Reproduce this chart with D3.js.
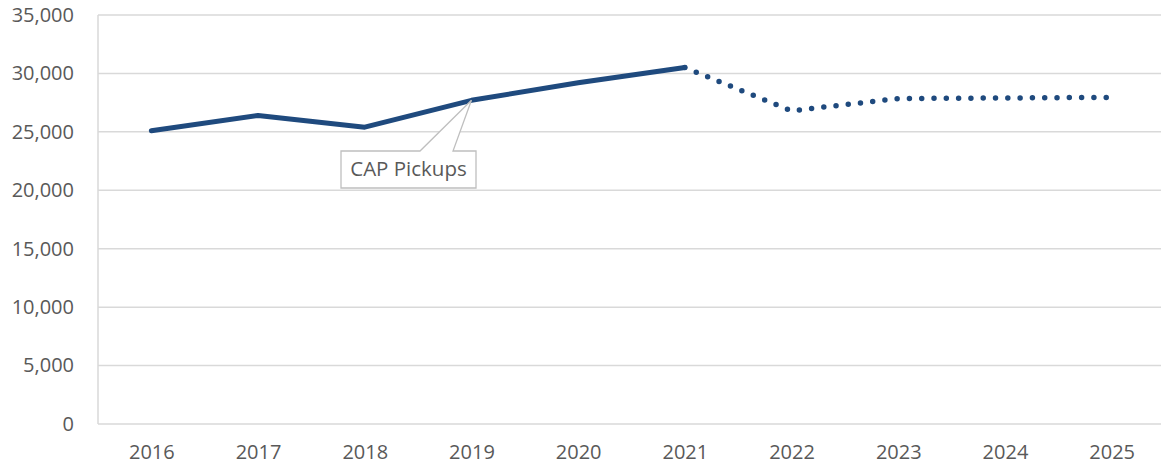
<!DOCTYPE html>
<html><head><meta charset="utf-8">
<script src="https://cdn.jsdelivr.net/npm/d3@7"></script>
<style>
body{margin:0;background:#fff;}
svg{display:block;font-family:"Open Sans","Liberation Sans",sans-serif;}
</style></head>
<body>
<svg id="chart" width="1161" height="469"></svg>
<script>
const years = ["2016","2017","2018","2019","2020","2021","2022","2023","2024","2025"];
const actualValues = [25100, 26400, 25400, 27700, 29200, 30500];
const projectedValues = [null, null, null, null, null, 30500, 26800, 27850, 27900, 27950];
const yTicks = [0, 5000, 10000, 15000, 20000, 25000, 30000, 35000];
const calloutLabel = "CAP Pickups";
const calloutYear = "2019";

const svg = d3.select("#chart");
const m = {left: 98, right: -4, top: 15, bottom: 45};
const W = 1161, H = 469;
const x = d3.scalePoint().domain(years).range([m.left, W - m.right]).padding(0.5);
const y = d3.scaleLinear().domain([0, 35000]).range([H - m.bottom, m.top]);
const FONT = "'Open Sans','Liberation Sans',sans-serif";

// gridlines
svg.append("g").selectAll("line").data(yTicks).join("line")
  .attr("x1", m.left).attr("x2", W)
  .attr("y1", d => y(d)).attr("y2", d => y(d))
  .attr("stroke", "#d9d9d9").attr("stroke-width", 1.5);
svg.append("line").attr("x1", m.left).attr("x2", m.left)
  .attr("y1", y(35000)).attr("y2", y(0))
  .attr("stroke", "#d9d9d9").attr("stroke-width", 1.5);

// y axis labels
const yAxis = d3.axisLeft(y).tickValues(yTicks).tickSize(0).tickPadding(0)
  .tickFormat(d3.format(","));
const gy = svg.append("g").attr("transform", `translate(${m.left - 24},0)`).call(yAxis);
gy.select(".domain").remove();
gy.selectAll("text").attr("font-size", 20).attr("fill", "#595959").attr("font-family", FONT);

// x axis labels
const xAxis = d3.axisBottom(x).tickSize(0).tickPadding(0);
const gx = svg.append("g").attr("transform", `translate(0,${y(0) + 21})`).call(xAxis);
gx.select(".domain").remove();
gx.selectAll("text").attr("font-size", 20).attr("fill", "#595959").attr("font-family", FONT);

const color = "#1f4a7e";
const actual = actualValues.map((v, i) => ({year: years[i], v}));
const proj = projectedValues.map((v, i) => ({year: years[i], v})).filter(d => d.v != null);
const line = d3.line().x(d => x(d.year)).y(d => y(d.v));

svg.append("path").datum(actual).attr("d", line)
  .attr("fill", "none").attr("stroke", color).attr("stroke-width", 5)
  .attr("stroke-linecap", "round").attr("stroke-linejoin", "round");
svg.append("path").datum(proj).attr("d", line)
  .attr("fill", "none").attr("stroke", color).attr("stroke-width", 5.5)
  .attr("stroke-dasharray", "0 12.3")
  .attr("stroke-linecap", "round").attr("stroke-linejoin", "round");

// callout
const px = x(calloutYear), py = y(actualValues[years.indexOf(calloutYear)]);
const bx = 341, by = 151, bw = 135, bh = 37;
svg.append("path")
  .attr("d", `M${bx},${by} L${bx + 79},${by} L${px},${py} L${bx + 112},${by} L${bx + bw},${by} L${bx + bw},${by + bh} L${bx},${by + bh} Z`)
  .attr("fill", "#fff").attr("stroke", "#bfbfbf").attr("stroke-width", 1.3);
svg.append("text").attr("x", bx + bw / 2).attr("y", by + bh / 2 + 1)
  .attr("text-anchor", "middle").attr("dominant-baseline", "middle")
  .attr("font-size", 20.5).attr("fill", "#595959").text(calloutLabel);
</script>
</body></html>
